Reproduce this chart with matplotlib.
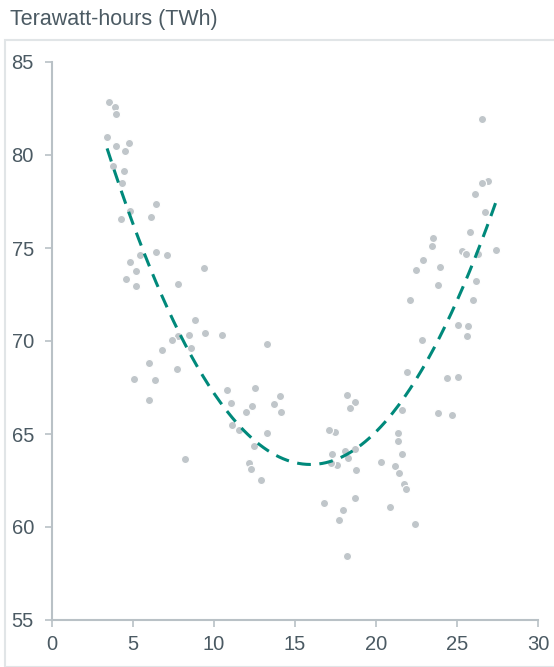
import numpy as np
import matplotlib
matplotlib.use("Agg")
import matplotlib.pyplot as plt
from matplotlib.patches import Rectangle

# scatter values (x, TWh)
x_vals = [3.54, 3.91, 3.93, 3.40, 3.97, 4.75, 4.49, 3.77, 4.42, 4.32,
          4.81, 6.44, 4.26, 6.09, 5.43, 6.40, 7.12, 4.84, 5.19, 9.36,
          4.57, 5.19, 7.80, 8.83, 9.46, 10.47, 8.44, 7.78, 7.39, 8.58,
          6.79, 13.25, 5.97, 7.74, 5.04, 6.36, 5.97, 10.78, 12.53, 14.09,
          11.03, 12.37, 13.70, 11.95, 14.14, 11.09, 11.54, 13.27, 12.49, 8.21,
          12.18, 12.30, 12.92,
          21.90, 18.23, 18.73, 18.40, 21.62, 23.81, 17.47, 17.12, 21.38, 21.38,
          21.59, 17.26, 18.06, 18.68, 18.29, 17.61, 17.22, 18.77, 20.31, 21.15,
          21.44, 21.73, 21.87, 16.79, 18.73, 20.86, 17.94, 17.74, 22.43, 18.23,
          25.62, 22.86, 24.40, 25.06, 24.71,
          26.54, 26.89, 26.52, 26.11, 26.71, 25.78, 23.50, 23.44, 25.29, 25.56,
          26.30, 27.43, 22.92, 22.45, 23.97, 23.85, 26.15, 22.12, 25.99, 25.04,
          25.66]
y_vals = [82.85, 82.60, 82.20, 80.95, 80.47, 80.65, 80.20, 79.40, 79.14, 78.50,
          77.00, 77.37, 76.54, 76.65, 74.60, 74.80, 74.60, 74.25, 73.75, 73.94,
          73.33, 72.96, 73.08, 71.13, 70.43, 70.34, 70.34, 70.27, 70.05, 69.60,
          69.50, 69.82, 68.83, 68.48, 67.94, 67.92, 66.85, 67.37, 67.49, 67.04,
          66.65, 66.53, 66.61, 66.20, 66.17, 65.48, 65.23, 65.03, 64.37, 63.67,
          63.42, 63.12, 62.53,
          68.33, 67.11, 66.70, 66.41, 66.31, 66.13, 65.11, 65.20, 65.03, 64.60,
          63.94, 63.91, 64.10, 64.21, 63.69, 63.35, 63.44, 63.08, 63.51, 63.28,
          62.89, 62.33, 62.06, 61.31, 61.54, 61.09, 60.91, 60.36, 60.15, 58.46,
          70.27, 70.07, 68.01, 68.06, 66.00,
          81.95, 78.59, 78.48, 77.90, 76.92, 75.86, 75.56, 75.13, 74.86, 74.68,
          74.70, 74.88, 74.37, 73.80, 73.98, 73.01, 73.21, 72.22, 72.20, 70.88,
          70.81]

x_ticks = [0, 5, 10, 15, 20, 25, 30]
y_ticks = [55, 60, 65, 70, 75, 80, 85]
y_title = "Terawatt-hours (TWh)"

text_col = "#4b5a63"
axis_col = "#b9c1c6"
dot_col = "#c0c6ca"
line_col = "#00897b"

plt.rcParams["font.family"] = ["Liberation Sans", "DejaVu Sans"]

fig = plt.figure(figsize=(5.54, 6.67), dpi=100)
ax = fig.add_axes([52 / 554, 1 - 620 / 667, (538 - 52) / 554, (620 - 62) / 667])

# outer frame
fig.patches.append(Rectangle((5 / 554, 0), 1.0, 1 - 40 / 667, transform=fig.transFigure,
                             fill=False, edgecolor="#e1e5e7", linewidth=1.5))
fig.text(10 / 554, 1 - 19 / 667, y_title, fontsize=15.5, color=text_col, va="center", ha="left")

ax.scatter(x_vals, y_vals, s=34, color=dot_col, edgecolors="white", linewidths=0.8, zorder=2)

# quadratic trend fitted to the scatter
coef = np.polyfit(x_vals, y_vals, 2)
xf = np.linspace(min(x_vals), max(x_vals), 200)
ax.plot(xf, np.polyval(coef, xf), color=line_col, linewidth=2.2, dashes=(4.5, 2.8), zorder=3)

ax.set_xlim(0, 30)
ax.set_ylim(55, 85)
ax.set_xticks(x_ticks)
ax.set_yticks(y_ticks)
for side in ["top", "right"]:
    ax.spines[side].set_visible(False)
for side in ["left", "bottom"]:
    ax.spines[side].set_color(axis_col)
    ax.spines[side].set_linewidth(1.5)
ax.tick_params(colors=axis_col, labelcolor=text_col, labelsize=14.5, length=5, width=1.2)
ax.tick_params(axis="y", pad=8)
ax.tick_params(axis="x", pad=6)

fig.savefig("out.png", dpi=100)
